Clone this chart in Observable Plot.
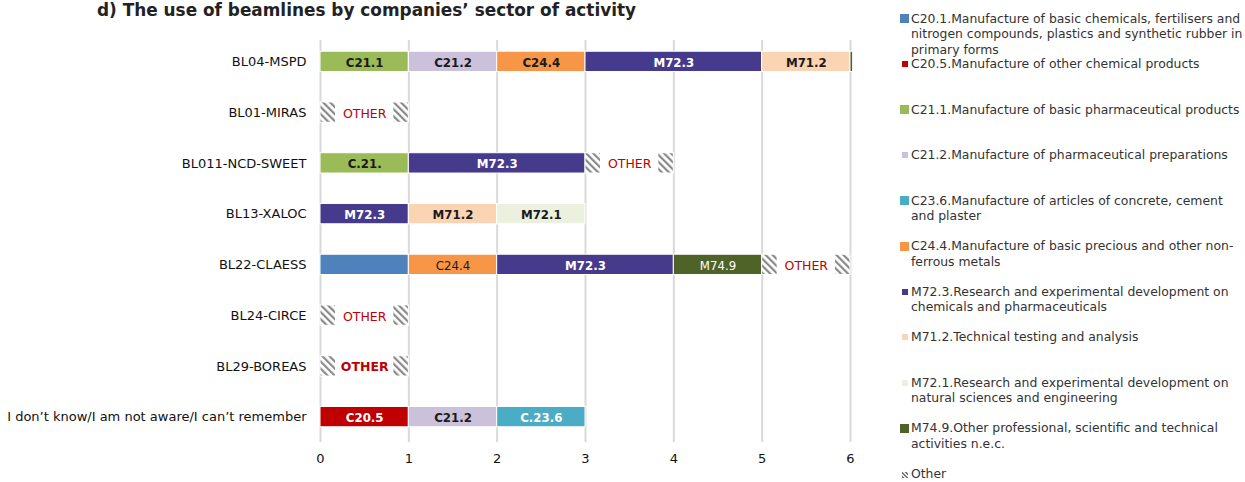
<!DOCTYPE html>
<html><head><meta charset="utf-8">
<script src="https://cdn.jsdelivr.net/npm/d3@7"></script>
<script src="https://cdn.jsdelivr.net/npm/@observablehq/plot@0.6"></script>
<style>
body{margin:0;background:#fff;font-family:"DejaVu Sans",sans-serif;}
#wrap{position:relative;width:1245px;height:482px;overflow:hidden;}
#title{position:absolute;left:97px;top:1px;font-weight:bold;font-size:16.9px;line-height:18px;color:#222;white-space:nowrap;}
#chart{position:absolute;left:0;top:0;}
#legend{position:absolute;left:900px;top:0;width:345px;height:482px;}
.li{position:absolute;left:0;width:336px;font-size:12.4px;line-height:15.5px;color:#333;padding-left:11px;}
.sw{position:absolute;left:0;}
</style></head><body>
<div id="wrap">
<div id="title">d) The use of beamlines by companies’ sector of activity</div>
<div id="chart"></div>
<div id="legend"></div>
</div>
<script>
// ---- data ----
const beamlines = ["BL04-MSPD","BL01-MIRAS","BL011-NCD-SWEET","BL13-XALOC","BL22-CLAESS","BL24-CIRCE","BL29-BOREAS","I don’t know/I am not aware/I can’t remember"];
const sectorCodes = ["C20.1","C20.5","C21.1","C21.2","C23.6","C24.4","M72.3","M71.2","M72.1","M74.9","Other"];
const sectorNames = [
  "C20.1.Manufacture of basic chemicals, fertilisers and nitrogen compounds, plastics and synthetic rubber in primary forms",
  "C20.5.Manufacture of other chemical products",
  "C21.1.Manufacture of basic pharmaceutical products",
  "C21.2.Manufacture of pharmaceutical preparations",
  "C23.6.Manufacture of articles of concrete, cement and plaster",
  "C24.4.Manufacture of basic precious and other non-ferrous metals",
  "M72.3.Research and experimental development on chemicals and pharmaceuticals",
  "M71.2.Technical testing and analysis",
  "M72.1.Research and experimental development on natural sciences and engineering",
  "M74.9.Other professional, scientific and technical activities n.e.c.",
  "Other"
];
const sectorColors = ["#4f81bd","#c00000","#9bbb59","#ccc1da","#4bacc6","#f79646","#463a8c","#fbd4b4","#ebf1de","#4f6228","url(#hatch)"];

const segBeamline = [
  "BL04-MSPD","BL04-MSPD","BL04-MSPD","BL04-MSPD","BL04-MSPD","BL04-MSPD",
  "BL01-MIRAS",
  "BL011-NCD-SWEET","BL011-NCD-SWEET","BL011-NCD-SWEET",
  "BL13-XALOC","BL13-XALOC","BL13-XALOC",
  "BL22-CLAESS","BL22-CLAESS","BL22-CLAESS","BL22-CLAESS","BL22-CLAESS",
  "BL24-CIRCE",
  "BL29-BOREAS",
  "I don’t know/I am not aware/I can’t remember","I don’t know/I am not aware/I can’t remember","I don’t know/I am not aware/I can’t remember"
];
const segSector = [
  "C21.1","C21.2","C24.4","M72.3","M71.2","M74.9",
  "Other",
  "C21.1","M72.3","Other",
  "M72.3","M71.2","M72.1",
  "C20.1","C24.4","M72.3","M74.9","Other",
  "Other",
  "Other",
  "C20.5","C21.2","C23.6"
];
const segValue = [
  1,1,1,2,1,0.03,
  1,
  1,2,1,
  1,1,1,
  1,1,2,1,1,
  1,
  1,
  1,1,1
];
const segLabel = [
  "C21.1","C21.2","C24.4","M72.3","M71.2","",
  "OTHER",
  "C.21.","M72.3","OTHER",
  "M72.3","M71.2","M72.1",
  "","C24.4","M72.3","M74.9","OTHER",
  "OTHER",
  "OTHER",
  "C20.5","C21.2","C.23.6"
];
const segBold = [
  true,true,true,true,true,false,
  false,
  true,true,false,
  true,true,true,
  false,false,true,false,false,
  false,
  true,
  true,true,true
];
const xTicks = [0,1,2,3,4,5,6];

// ---- build table (cumulative stacking from values) ----
const running = {};
const segs = segBeamline.map((b, i) => {
  const x1 = running[b] || 0;
  const x2 = x1 + segValue[i];
  running[b] = x2;
  return {beamline: b, sector: segSector[i], value: segValue[i], label: segLabel[i], bold: segBold[i], x1, x2, mid: (x1 + x2) / 2};
});
const whiteText = new Set(["M72.3","C20.5","C23.6","M74.9"]);
const labelFill = d => d.sector === "Other" ? "#c00000" : whiteText.has(d.sector) ? "#ffffff" : "#1a1a1a";

const textMarks = [];
for (const fill of ["#c00000","#ffffff","#1a1a1a"]) {
  for (const bold of [true,false]) {
    const sub = segs.filter(d => d.label && labelFill(d) === fill && d.bold === bold);
    if (sub.length) textMarks.push(Plot.text(sub, {x: "mid", y: "beamline", text: "label", fill, fontWeight: bold ? "bold" : "normal", fontSize: fill === "#c00000" ? 12.5 : 11.8, dy: 1}));
  }
}

const chart = Plot.plot({
  width: 880, height: 476,
  marginLeft: 320, marginRight: 30, marginTop: 36, marginBottom: 34,
  style: {fontFamily: "DejaVu Sans, sans-serif", fontSize: "13px", color: "#111", background: "transparent"},
  x: {domain: [0, 6], ticks: xTicks, tickSize: 0, tickPadding: 11, label: null, tickFormat: d => String(d)},
  y: {domain: beamlines, paddingInner: 0.6, paddingOuter: 0.3, round: false, tickSize: 0, tickPadding: 14, label: null},
  color: {domain: sectorCodes, range: sectorColors},
  marks: [
    Plot.ruleX(xTicks, {stroke: "#d9d9d9", strokeWidth: 2, insetTop: 4}),
    Plot.barX(segs, {x1: "x1", x2: "x2", y: "beamline", fill: "sector", stroke: "white", strokeWidth: 1}),
    Plot.barX(segs.filter(d => d.sector === "Other"), {x1: "x1", x2: "x2", y: "beamline", fill: "white", insetLeft: 15, insetRight: 15, insetTop: -1, insetBottom: -1}),
    ...textMarks
  ]
});

// hatch pattern
const defs = d3.select(chart).insert("defs", ":first-child");
const pat = defs.append("pattern").attr("id", "hatch").attr("patternUnits", "userSpaceOnUse")
  .attr("width", 5).attr("height", 5).attr("patternTransform", "rotate(-45)");
pat.append("rect").attr("width", 5).attr("height", 5).attr("fill", "#ffffff");
pat.append("rect").attr("width", 2.2).attr("height", 5).attr("fill", "#8a8a8a");

document.getElementById("chart").appendChild(chart);

// legend
const smallMarker = new Set(["C20.5","C21.2","M72.3","M71.2","M72.1"]);
const legend = d3.select("#legend");
sectorCodes.forEach((c, i) => {
  const item = legend.append("div").attr("class", "li").style("top", (10.5 + i * 45.5) + "px");
  const s = c === "Other" ? 6 : smallMarker.has(c) ? 6 : 9;
  const sw = item.append("div").attr("class", "sw")
    .style("width", s + "px").style("height", s + "px")
    .style("top", (c === "Other" ? 6 : smallMarker.has(c) ? 5 : 3.5) + "px")
    .style("left", (smallMarker.has(c) || c === "Other" ? 2 : 0) + "px");
  if (c === "Other") sw.style("background", "repeating-linear-gradient(45deg,#777 0 1.5px,#eee 1.5px 3px)");
  else sw.style("background", sectorColors[i]);
  item.append("span").text(sectorNames[i]);
});
</script>
</body></html>
